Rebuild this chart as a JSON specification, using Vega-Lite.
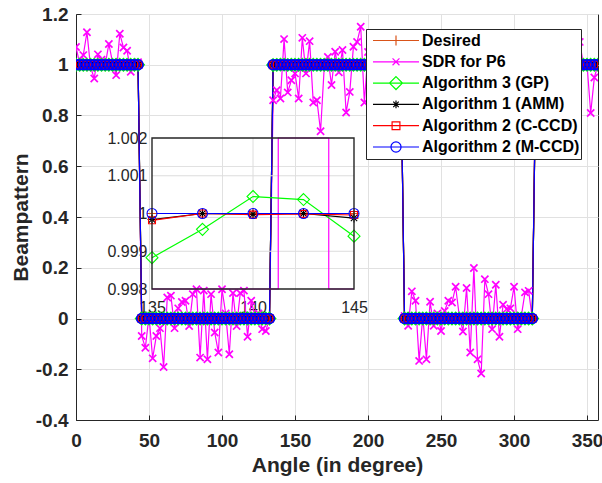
{
"$schema": "https://vega.github.io/schema/vega-lite/v6.json",
"background": "white",
"autosize": {"type": "none"},
"padding": {"left": 76, "top": 14, "right": 4, "bottom": 63},
"width": 522,
"height": 406,
"config": {
  "font": "Liberation Sans",
  "view": {"stroke": "#262626", "strokeWidth": 1},
  "axis": {"labelFlush": false, "labelOverlap": false, "gridColor": "#e1e1e1", "gridWidth": 1, "domainColor": "#262626", "tickColor": "#262626", "labelColor": "#262626", "titleColor": "#262626"}
},
"datasets": {"bp": [
{"angle":0,"s1":1,"s2":1.07,"s3":1,"s4":1,"s5":1,"s6":1},
{"angle":2.5,"s1":1,"s2":1.005,"s3":1,"s4":1,"s5":1,"s6":1},
{"angle":5,"s1":1,"s2":1.038,"s3":1,"s4":1,"s5":1,"s6":1},
{"angle":7.5,"s1":1,"s2":1.128,"s3":1,"s4":1,"s5":1,"s6":1},
{"angle":10,"s1":1,"s2":0.99,"s3":1,"s4":1,"s5":1,"s6":1},
{"angle":12.5,"s1":1,"s2":0.946,"s3":1,"s4":1,"s5":1,"s6":1},
{"angle":15,"s1":1,"s2":1.041,"s3":1,"s4":1,"s5":1,"s6":1},
{"angle":17.5,"s1":1,"s2":1.02,"s3":1,"s4":1,"s5":1,"s6":1},
{"angle":20,"s1":1,"s2":1.0,"s3":1,"s4":1,"s5":1,"s6":1},
{"angle":22.5,"s1":1,"s2":1.082,"s3":1,"s4":1,"s5":1,"s6":1},
{"angle":25,"s1":1,"s2":1.01,"s3":1,"s4":1,"s5":1,"s6":1},
{"angle":27.5,"s1":1,"s2":0.959,"s3":1,"s4":1,"s5":1,"s6":1},
{"angle":30,"s1":1,"s2":1.122,"s3":1,"s4":1,"s5":1,"s6":1},
{"angle":32.5,"s1":1,"s2":1.068,"s3":1,"s4":1,"s5":1,"s6":1},
{"angle":35,"s1":1,"s2":1.055,"s3":1,"s4":1,"s5":1,"s6":1},
{"angle":37.5,"s1":1,"s2":0.972,"s3":1,"s4":1,"s5":1,"s6":1},
{"angle":40,"s1":1,"s2":1.0,"s3":1,"s4":1,"s5":1,"s6":1},
{"angle":42.5,"s1":1,"s2":1.01,"s3":1,"s4":1,"s5":1,"s6":1},
{"angle":45,"s1":0,"s2":-0.069,"s3":0,"s4":0,"s5":0,"s6":0},
{"angle":47.5,"s1":0,"s2":-0.115,"s3":0,"s4":0,"s5":0,"s6":0},
{"angle":50,"s1":0,"s2":0.01,"s3":0,"s4":0,"s5":0,"s6":0},
{"angle":52.5,"s1":0,"s2":-0.157,"s3":0,"s4":0,"s5":0,"s6":0},
{"angle":55,"s1":0,"s2":-0.069,"s3":0,"s4":0,"s5":0,"s6":0},
{"angle":57.5,"s1":0,"s2":-0.038,"s3":0,"s4":0,"s5":0,"s6":0},
{"angle":60,"s1":0,"s2":-0.191,"s3":0,"s4":0,"s5":0,"s6":0},
{"angle":62.5,"s1":0,"s2":0.083,"s3":0,"s4":0,"s5":0,"s6":0},
{"angle":65,"s1":0,"s2":0.09,"s3":0,"s4":0,"s5":0,"s6":0},
{"angle":67.5,"s1":0,"s2":-0.038,"s3":0,"s4":0,"s5":0,"s6":0},
{"angle":70,"s1":0,"s2":0.04,"s3":0,"s4":0,"s5":0,"s6":0},
{"angle":72.5,"s1":0,"s2":0.065,"s3":0,"s4":0,"s5":0,"s6":0},
{"angle":75,"s1":0,"s2":0.07,"s3":0,"s4":0,"s5":0,"s6":0},
{"angle":77.5,"s1":0,"s2":-0.03,"s3":0,"s4":0,"s5":0,"s6":0},
{"angle":80,"s1":0,"s2":0.096,"s3":0,"s4":0,"s5":0,"s6":0},
{"angle":82.5,"s1":0,"s2":0.115,"s3":0,"s4":0,"s5":0,"s6":0},
{"angle":85,"s1":0,"s2":-0.154,"s3":0,"s4":0,"s5":0,"s6":0},
{"angle":87.5,"s1":0,"s2":0.11,"s3":0,"s4":0,"s5":0,"s6":0},
{"angle":90,"s1":0,"s2":-0.161,"s3":0,"s4":0,"s5":0,"s6":0},
{"angle":92.5,"s1":0,"s2":0.096,"s3":0,"s4":0,"s5":0,"s6":0},
{"angle":95,"s1":0,"s2":-0.055,"s3":0,"s4":0,"s5":0,"s6":0},
{"angle":97.5,"s1":0,"s2":-0.134,"s3":0,"s4":0,"s5":0,"s6":0},
{"angle":100,"s1":0,"s2":0.115,"s3":0,"s4":0,"s5":0,"s6":0},
{"angle":102.5,"s1":0,"s2":0.02,"s3":0,"s4":0,"s5":0,"s6":0},
{"angle":105,"s1":0,"s2":-0.141,"s3":0,"s4":0,"s5":0,"s6":0},
{"angle":107.5,"s1":0,"s2":0.1,"s3":0,"s4":0,"s5":0,"s6":0},
{"angle":110,"s1":0,"s2":-0.03,"s3":0,"s4":0,"s5":0,"s6":0},
{"angle":112.5,"s1":0,"s2":0.1,"s3":0,"s4":0,"s5":0,"s6":0},
{"angle":115,"s1":0,"s2":0.11,"s3":0,"s4":0,"s5":0,"s6":0},
{"angle":117.5,"s1":0,"s2":-0.072,"s3":0,"s4":0,"s5":0,"s6":0},
{"angle":120,"s1":0,"s2":0.07,"s3":0,"s4":0,"s5":0,"s6":0},
{"angle":122.5,"s1":0,"s2":0.01,"s3":0,"s4":0,"s5":0,"s6":0},
{"angle":125,"s1":0,"s2":0.02,"s3":0,"s4":0,"s5":0,"s6":0},
{"angle":127.5,"s1":0,"s2":-0.042,"s3":0,"s4":0,"s5":0,"s6":0},
{"angle":130,"s1":0,"s2":-0.049,"s3":0,"s4":0,"s5":0,"s6":0},
{"angle":132.5,"s1":0,"s2":0.0,"s3":0,"s4":0,"s5":0,"s6":0},
{"angle":135,"s1":1,"s2":0.86,"s3":0.99883,"s4":0.99984,"s5":0.99982,"s6":1},
{"angle":137.5,"s1":1,"s2":0.9,"s3":0.99958,"s4":1,"s5":1,"s6":1},
{"angle":140,"s1":1,"s2":0.867,"s3":1.00045,"s4":0.99998,"s5":0.99997,"s6":1},
{"angle":142.5,"s1":1,"s2":1.101,"s3":1.00037,"s4":1,"s5":0.99999,"s6":1},
{"angle":145,"s1":1,"s2":0.891,"s3":0.9994,"s4":0.99988,"s5":0.99996,"s6":1},
{"angle":147.5,"s1":1,"s2":0.939,"s3":1,"s4":1,"s5":1,"s6":1},
{"angle":150,"s1":1,"s2":0.966,"s3":1,"s4":1,"s5":1,"s6":1},
{"angle":152.5,"s1":1,"s2":0.867,"s3":1,"s4":1,"s5":1,"s6":1},
{"angle":155,"s1":1,"s2":1.106,"s3":1,"s4":1,"s5":1,"s6":1},
{"angle":157.5,"s1":1,"s2":0.966,"s3":1,"s4":1,"s5":1,"s6":1},
{"angle":160,"s1":1,"s2":1.093,"s3":1,"s4":1,"s5":1,"s6":1},
{"angle":162.5,"s1":1,"s2":0.851,"s3":1,"s4":1,"s5":1,"s6":1},
{"angle":165,"s1":1,"s2":0.86,"s3":1,"s4":1,"s5":1,"s6":1},
{"angle":167.5,"s1":1,"s2":0.738,"s3":1,"s4":1,"s5":1,"s6":1},
{"angle":170,"s1":1,"s2":0.99,"s3":1,"s4":1,"s5":1,"s6":1},
{"angle":172.5,"s1":1,"s2":1.031,"s3":1,"s4":1,"s5":1,"s6":1},
{"angle":175,"s1":1,"s2":0.92,"s3":1,"s4":1,"s5":1,"s6":1},
{"angle":177.5,"s1":1,"s2":1.051,"s3":1,"s4":1,"s5":1,"s6":1},
{"angle":180,"s1":1,"s2":0.97,"s3":1,"s4":1,"s5":1,"s6":1},
{"angle":182.5,"s1":1,"s2":1.058,"s3":1,"s4":1,"s5":1,"s6":1},
{"angle":185,"s1":1,"s2":0.812,"s3":1,"s4":1,"s5":1,"s6":1},
{"angle":187.5,"s1":1,"s2":0.893,"s3":1,"s4":1,"s5":1,"s6":1},
{"angle":190,"s1":1,"s2":1.071,"s3":1,"s4":1,"s5":1,"s6":1},
{"angle":192.5,"s1":1,"s2":1.09,"s3":1,"s4":1,"s5":1,"s6":1},
{"angle":195,"s1":1,"s2":1.15,"s3":1,"s4":1,"s5":1,"s6":1},
{"angle":197.5,"s1":1,"s2":0.851,"s3":1,"s4":1,"s5":1,"s6":1},
{"angle":200,"s1":1,"s2":1.05,"s3":1,"s4":1,"s5":1,"s6":1},
{"angle":202.5,"s1":1,"s2":0.93,"s3":1,"s4":1,"s5":1,"s6":1},
{"angle":205,"s1":1,"s2":1.08,"s3":1,"s4":1,"s5":1,"s6":1},
{"angle":207.5,"s1":1,"s2":0.97,"s3":1,"s4":1,"s5":1,"s6":1},
{"angle":210,"s1":1,"s2":0.9,"s3":1,"s4":1,"s5":1,"s6":1},
{"angle":212.5,"s1":1,"s2":1.06,"s3":1,"s4":1,"s5":1,"s6":1},
{"angle":215,"s1":1,"s2":1.02,"s3":1,"s4":1,"s5":1,"s6":1},
{"angle":217.5,"s1":1,"s2":0.95,"s3":1,"s4":1,"s5":1,"s6":1},
{"angle":220,"s1":1,"s2":1.1,"s3":1,"s4":1,"s5":1,"s6":1},
{"angle":222.5,"s1":1,"s2":0.98,"s3":1,"s4":1,"s5":1,"s6":1},
{"angle":225,"s1":0,"s2":0.01,"s3":0,"s4":0,"s5":0,"s6":0},
{"angle":227.5,"s1":0,"s2":-0.029,"s3":0,"s4":0,"s5":0,"s6":0},
{"angle":230,"s1":0,"s2":0.107,"s3":0,"s4":0,"s5":0,"s6":0},
{"angle":232.5,"s1":0,"s2":0.07,"s3":0,"s4":0,"s5":0,"s6":0},
{"angle":235,"s1":0,"s2":-0.167,"s3":0,"s4":0,"s5":0,"s6":0},
{"angle":237.5,"s1":0,"s2":0.01,"s3":0,"s4":0,"s5":0,"s6":0},
{"angle":240,"s1":0,"s2":-0.161,"s3":0,"s4":0,"s5":0,"s6":0},
{"angle":242.5,"s1":0,"s2":0.066,"s3":0,"s4":0,"s5":0,"s6":0},
{"angle":245,"s1":0,"s2":-0.029,"s3":0,"s4":0,"s5":0,"s6":0},
{"angle":247.5,"s1":0,"s2":0.02,"s3":0,"s4":0,"s5":0,"s6":0},
{"angle":250,"s1":0,"s2":-0.049,"s3":0,"s4":0,"s5":0,"s6":0},
{"angle":252.5,"s1":0,"s2":0.03,"s3":0,"s4":0,"s5":0,"s6":0},
{"angle":255,"s1":0,"s2":0.07,"s3":0,"s4":0,"s5":0,"s6":0},
{"angle":257.5,"s1":0,"s2":0.063,"s3":0,"s4":0,"s5":0,"s6":0},
{"angle":260,"s1":0,"s2":0.125,"s3":0,"s4":0,"s5":0,"s6":0},
{"angle":262.5,"s1":0,"s2":0.01,"s3":0,"s4":0,"s5":0,"s6":0},
{"angle":265,"s1":0,"s2":-0.051,"s3":0,"s4":0,"s5":0,"s6":0},
{"angle":267.5,"s1":0,"s2":0.12,"s3":0,"s4":0,"s5":0,"s6":0},
{"angle":270,"s1":0,"s2":-0.134,"s3":0,"s4":0,"s5":0,"s6":0},
{"angle":272.5,"s1":0,"s2":0.199,"s3":0,"s4":0,"s5":0,"s6":0},
{"angle":275,"s1":0,"s2":-0.161,"s3":0,"s4":0,"s5":0,"s6":0},
{"angle":277.5,"s1":0,"s2":-0.217,"s3":0,"s4":0,"s5":0,"s6":0},
{"angle":280,"s1":0,"s2":0.155,"s3":0,"s4":0,"s5":0,"s6":0},
{"angle":282.5,"s1":0,"s2":0.096,"s3":0,"s4":0,"s5":0,"s6":0},
{"angle":285,"s1":0,"s2":-0.042,"s3":0,"s4":0,"s5":0,"s6":0},
{"angle":287.5,"s1":0,"s2":0.133,"s3":0,"s4":0,"s5":0,"s6":0},
{"angle":290,"s1":0,"s2":-0.072,"s3":0,"s4":0,"s5":0,"s6":0},
{"angle":292.5,"s1":0,"s2":0.054,"s3":0,"s4":0,"s5":0,"s6":0},
{"angle":295,"s1":0,"s2":0.037,"s3":0,"s4":0,"s5":0,"s6":0},
{"angle":297.5,"s1":0,"s2":0.04,"s3":0,"s4":0,"s5":0,"s6":0},
{"angle":300,"s1":0,"s2":0.125,"s3":0,"s4":0,"s5":0,"s6":0},
{"angle":302.5,"s1":0,"s2":-0.042,"s3":0,"s4":0,"s5":0,"s6":0},
{"angle":305,"s1":0,"s2":0.01,"s3":0,"s4":0,"s5":0,"s6":0},
{"angle":307.5,"s1":0,"s2":0.103,"s3":0,"s4":0,"s5":0,"s6":0},
{"angle":310,"s1":0,"s2":0.109,"s3":0,"s4":0,"s5":0,"s6":0},
{"angle":312.5,"s1":0,"s2":0.0,"s3":0,"s4":0,"s5":0,"s6":0},
{"angle":315,"s1":1,"s2":1.05,"s3":1,"s4":1,"s5":1,"s6":1},
{"angle":317.5,"s1":1,"s2":0.96,"s3":1,"s4":1,"s5":1,"s6":1},
{"angle":320,"s1":1,"s2":1.08,"s3":1,"s4":1,"s5":1,"s6":1},
{"angle":322.5,"s1":1,"s2":0.92,"s3":1,"s4":1,"s5":1,"s6":1},
{"angle":325,"s1":1,"s2":1.03,"s3":1,"s4":1,"s5":1,"s6":1},
{"angle":327.5,"s1":1,"s2":1.1,"s3":1,"s4":1,"s5":1,"s6":1},
{"angle":330,"s1":1,"s2":0.94,"s3":1,"s4":1,"s5":1,"s6":1},
{"angle":332.5,"s1":1,"s2":1.0,"s3":1,"s4":1,"s5":1,"s6":1},
{"angle":335,"s1":1,"s2":1.07,"s3":1,"s4":1,"s5":1,"s6":1},
{"angle":337.5,"s1":1,"s2":0.9,"s3":1,"s4":1,"s5":1,"s6":1},
{"angle":340,"s1":1,"s2":1.04,"s3":1,"s4":1,"s5":1,"s6":1},
{"angle":342.5,"s1":1,"s2":0.97,"s3":1,"s4":1,"s5":1,"s6":1},
{"angle":345,"s1":1,"s2":1.09,"s3":1,"s4":1,"s5":1,"s6":1},
{"angle":347.5,"s1":1,"s2":1.0,"s3":1,"s4":1,"s5":1,"s6":1},
{"angle":350,"s1":1,"s2":1.0,"s3":1,"s4":1,"s5":1,"s6":1},
{"angle":352.5,"s1":1,"s2":0.81,"s3":1,"s4":1,"s5":1,"s6":1},
{"angle":355,"s1":1,"s2":0.95,"s3":1,"s4":1,"s5":1,"s6":1},
{"angle":357.5,"s1":1,"s2":1.0,"s3":1,"s4":1,"s5":1,"s6":1}
]},
"resolve": {"scale": {"x": "independent", "y": "independent", "color": "independent", "shape": "independent"}},
"layer": [
{
  "data": {"name": "bp"},
  "transform": [{"fold": ["s1","s2","s3","s4","s5","s6"], "as": ["k","v"]}],
  "encoding": {
    "x": {"field": "angle", "type": "quantitative",
      "scale": {"domain": [0, 357.5], "nice": false, "zero": false},
      "axis": {"orient": "bottom", "values": [0,50,100,150,200,250,300,350], "title": "Angle (in degree)", "grid": true, "tickSize": -5, "labelFontSize": 19, "labelFontWeight": "bold", "labelPadding": 16.5, "titleFontSize": 21, "titleFontWeight": "bold", "titlePadding": 4}},
    "y": {"field": "v", "type": "quantitative",
      "scale": {"domain": [-0.4, 1.2], "nice": false, "zero": false},
      "axis": {"orient": "left", "values": [-0.4,-0.2,0,0.2,0.4,0.6,0.8,1,1.2], "labelExpr": "replace(format(datum.value,'.1~f'),'−','-')", "title": "Beampattern", "grid": true, "tickSize": -5, "labelFontSize": 19, "labelFontWeight": "bold", "labelPadding": 13, "titleFontSize": 21, "titleFontWeight": "bold", "titlePadding": 4}}
  },
  "layer": [
    {"mark": {"type": "line", "strokeWidth": 1.2, "clip": true},
     "encoding": {
       "color": {"field": "k", "type": "nominal", "scale": {"domain": ["s1","s2","s3","s4","s5","s6"], "range": ["#D95319","#FF00FF","#00FF00","#000000","#FF0000","#0000FF"]}, "legend": null}
     }},
    {"mark": {"type": "point", "filled": false, "size": 144, "strokeWidth": 1.7, "opacity": 1, "clip": true},
     "encoding": {
       "color": {"field": "k", "type": "nominal", "scale": {"domain": ["s1","s2","s3","s4","s5","s6"], "range": ["#D95319","#FF00FF","#00FF00","#000000","#FF0000","#0000FF"]}, "legend": null},
       "shape": {"field": "k", "type": "nominal", "scale": {"domain": ["s1","s2","s3","s4","s5","s6"], "range": ["M-0.83,0H0.83M0,-0.83V0.83","M-0.6,-0.6L0.6,0.6M-0.6,0.6L0.6,-0.6","M0,-1L1,0L0,1L-1,0Z","M-0.75,0H0.75M0,-0.75V0.75M-0.53,-0.53L0.53,0.53M-0.53,0.53L0.53,-0.53","M-0.58,-0.58H0.58V0.58H-0.58Z","M0.83,0A0.83,0.83,0,1,1,-0.83,0A0.83,0.83,0,1,1,0.83,0Z"]}, "legend": null},
       "order": {"field": "k", "type": "ordinal"}
     }},
    {"mark": {"type": "point", "filled": false, "opacity": 0},
     "encoding": {
       "color": {"field": "k", "type": "nominal", "scale": {"domain": ["s1","s2","s3","s4","s5","s6"], "range": ["#D95319","#FF00FF","#00FF00","#000000","#FF0000","#0000FF"]}},
       "shape": {"field": "k", "type": "nominal", "scale": {"domain": ["s1","s2","s3","s4","s5","s6"], "range": ["M-1,0H1M0,-0.22V0.22","M-1,0H1M-0.15,-0.15L0.15,0.15M-0.15,0.15L0.15,-0.15","M-1,0H1M0,-0.28L0.28,0L0,0.28L-0.28,0Z","M-1,0H1M0,-0.17V0.17M-0.12,-0.12L0.12,0.12M-0.12,0.12L0.12,-0.12","M-1,0H1M-0.17,-0.17H0.17V0.17H-0.17Z","M-1,0H1M0.22,0A0.22,0.22,0,1,1,-0.22,0A0.22,0.22,0,1,1,0.22,0Z"]},
         "legend": {"title": null, "orient": "none", "legendX": 290, "legendY": 15, "direction": "vertical", "fillColor": "white", "strokeColor": "#262626", "padding": 1, "cornerRadius": 0, "symbolSize": 2116, "symbolStrokeWidth": 1.2, "symbolOpacity": 1, "symbolOffset": 5, "labelOffset": 2, "labelFontSize": 16, "labelFontWeight": "bold", "labelColor": "#000000", "labelLimit": 300, "clipHeight": 21, "rowPadding": 0.3,
           "labelExpr": "datum.label=='s1'?'Desired':datum.label=='s2'?'SDR for P6':datum.label=='s3'?'Algorithm 3 (GP)':datum.label=='s4'?'Algorithm 1 (AMM)':datum.label=='s5'?'Algorithm 2 (C-CCD)':'Algorithm 2 (M-CCD)'"}}
     }}
  ],
  "resolve": {"scale": {"color": "independent", "shape": "independent"}}
},
{
  "layer": [
    {"data": {"values": [{"gx": 140}]},
     "mark": {"type": "rule", "color": "#dcdcdc", "strokeWidth": 1},
     "encoding": {
       "x": {"field": "gx", "type": "quantitative", "scale": {"domain": [135, 145], "range": [76, 278], "nice": false, "zero": false},
         "axis": {"orient": "bottom", "offset": -131, "values": [135,140,145], "title": null, "grid": false, "ticks": false, "domain": false, "labelFontSize": 16, "labelPadding": 10}},
       "y": {"datum": 0.998, "type": "quantitative", "scale": {"domain": [0.998, 1.002], "range": [275, 124], "nice": false, "zero": false, "clamp": true},
         "axis": {"orient": "left", "offset": -76, "values": [0.998,0.999,1,1.001,1.002], "format": ".3~f", "title": null, "grid": false, "ticks": false, "domain": false, "labelFontSize": 16, "labelPadding": 5}},
       "y2": {"datum": 1.002}
     }},
    {"data": {"values": [{"gy": 0.999}, {"gy": 1}, {"gy": 1.001}]},
     "mark": {"type": "rule", "color": "#dcdcdc", "strokeWidth": 1},
     "encoding": {
       "y": {"field": "gy", "type": "quantitative"},
       "x": {"datum": 135, "type": "quantitative"},
       "x2": {"datum": 145}
     }},
    {"data": {"name": "bp"},
     "transform": [{"filter": "datum.angle >= 135 && datum.angle <= 145"}, {"fold": ["s2"], "as": ["k","v"]}],
     "mark": {"type": "line", "strokeWidth": 1.2, "interpolate": "step", "color": "#FF00FF"},
     "encoding": {
       "x": {"field": "angle", "type": "quantitative"},
       "y": {"field": "v", "type": "quantitative"}
     }},
    {"data": {"name": "bp"},
     "transform": [{"filter": "datum.angle >= 135 && datum.angle <= 145"}, {"fold": ["s1","s3","s4","s5","s6"], "as": ["k","v"]}],
     "mark": {"type": "line", "strokeWidth": 1.2},
     "encoding": {
       "x": {"field": "angle", "type": "quantitative"},
       "y": {"field": "v", "type": "quantitative"},
       "color": {"field": "k", "type": "nominal", "scale": {"domain": ["s1","s2","s3","s4","s5","s6"], "range": ["#D95319","#FF00FF","#00FF00","#000000","#FF0000","#0000FF"]}, "legend": null}
     }},
    {"data": {"name": "bp"},
     "transform": [{"filter": "datum.angle >= 135 && datum.angle <= 145"}, {"fold": ["s1","s3","s4","s5","s6"], "as": ["k","v"]}],
     "mark": {"type": "point", "filled": false, "size": 144, "strokeWidth": 1.1, "opacity": 1},
     "encoding": {
       "x": {"field": "angle", "type": "quantitative"},
       "y": {"field": "v", "type": "quantitative"},
       "color": {"field": "k", "type": "nominal", "scale": {"domain": ["s1","s2","s3","s4","s5","s6"], "range": ["#D95319","#FF00FF","#00FF00","#000000","#FF0000","#0000FF"]}, "legend": null},
       "shape": {"field": "k", "type": "nominal", "scale": {"domain": ["s1","s2","s3","s4","s5","s6"], "range": ["M-0.83,0H0.83M0,-0.83V0.83","M-0.6,-0.6L0.6,0.6M-0.6,0.6L0.6,-0.6","M0,-1L1,0L0,1L-1,0Z","M-0.75,0H0.75M0,-0.75V0.75M-0.53,-0.53L0.53,0.53M-0.53,0.53L0.53,-0.53","M-0.58,-0.58H0.58V0.58H-0.58Z","M0.83,0A0.83,0.83,0,1,1,-0.83,0A0.83,0.83,0,1,1,0.83,0Z"]}, "legend": null},
       "order": {"field": "k", "type": "ordinal"}
     }},
    {"data": {"values": [{}]},
     "mark": {"type": "rect", "filled": false, "stroke": "#262626", "strokeWidth": 1.4},
     "encoding": {
       "x": {"datum": 135, "type": "quantitative"},
       "x2": {"datum": 145},
       "y": {"datum": 0.998, "type": "quantitative"},
       "y2": {"datum": 1.002}
     }}
  ]
}
]
}
